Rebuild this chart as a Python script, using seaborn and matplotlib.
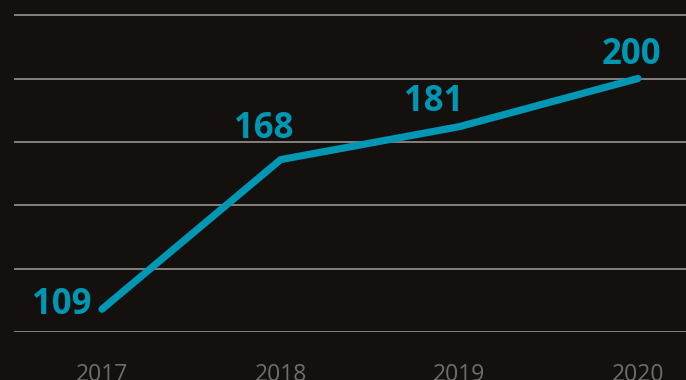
import matplotlib
matplotlib.use("Agg")
import matplotlib.pyplot as plt
import seaborn as sns
import pandas as pd

years = [2017, 2018, 2019, 2020]
values = [109, 168, 181, 200]
tick_labels = ["2017", "2018", "2019", "2020"]
yticks = [100, 125, 150, 175, 200, 225]

BG = "#13100e"
TEAL = "#0097b4"
GRID = "#8c8a88"
LABEL = "#6f6d6b"

sns.set_theme(style="dark")
plt.rcParams["font.family"] = ["Open Sans", "DejaVu Sans"]

df = pd.DataFrame({"year": years, "value": values})

W, H, DPI = 686, 380, 100
fig = plt.figure(figsize=(W / DPI, H / DPI), dpi=DPI, facecolor=BG)
left_px, bottom_px = 14, 332
ax = fig.add_axes([left_px / W, (H - bottom_px) / H, 1 - left_px / W, bottom_px / H])
ax.set_facecolor(BG)

sns.lineplot(data=df, x="year", y="value", ax=ax, color=TEAL, linewidth=5.2,
             solid_capstyle="round", solid_joinstyle="round")
for l in ax.lines:
    l.set_clip_on(False)

ax.set_xlim(2016.5075, 2020.269)
ax.set_ylim(100, 230.97)
ax.set_yticks(yticks)
ax.set_xticks(years)
ax.set_xticklabels(tick_labels)
ax.grid(axis="y", color=GRID, linewidth=1.3)
ax.grid(axis="x", visible=False)
ax.tick_params(axis="y", left=False, labelleft=False)
ax.tick_params(axis="x", bottom=False, pad=16, labelsize=16.5, labelcolor=LABEL)
for s in ax.spines.values():
    s.set_visible(False)
ax.set_xlabel("")
ax.set_ylabel("")

# label offsets in pixels (dx, dy), alignment
offs = [(-10, -5, "right"), (-17, 22, "center"), (-26, 16, "center"), (-6, 15, "center")]
for x, v, (dx, dy, ha) in zip(years, values, offs):
    ax.annotate(str(v), (x, v), xytext=(dx * 0.72, dy * 0.72), textcoords="offset points",
                ha=ha, va="baseline", fontsize=25, fontweight="bold", color=TEAL,
                annotation_clip=False)

fig.savefig("out.png", dpi=DPI, facecolor=BG)
